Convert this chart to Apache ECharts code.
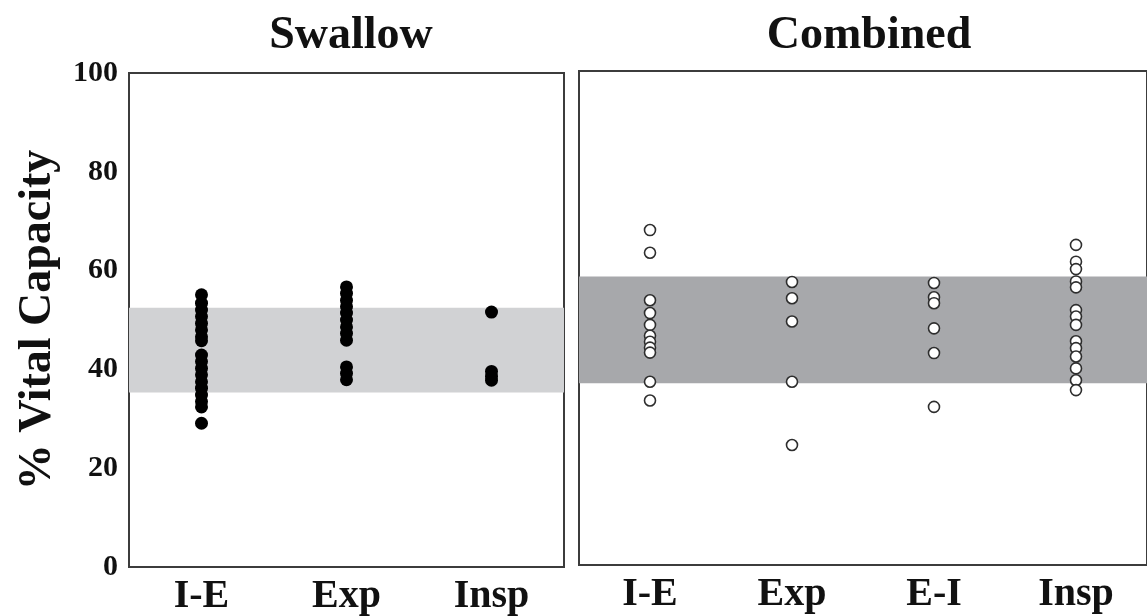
<!DOCTYPE html>
<html>
<head>
<meta charset="utf-8">
<script src="https://cdn.jsdelivr.net/npm/echarts@6/dist/echarts.min.js"></script>
<style>
  html, body { margin: 0; padding: 0; background: #fff; }
  #chart { width: 1147px; height: 616px; }
</style>
</head>
<body>
<div id="chart"></div>
<script>
// Panel titles and categories
const panelTitles = ['Swallow', 'Combined'];
const swallowCats = ['I-E', 'Exp', 'Insp'];
const combinedCats = ['I-E', 'Exp', 'E-I', 'Insp'];

// % vital capacity per trial, swallow alone
const swallowIE = [55.1, 53.4, 52.0, 50.7, 49.3, 48.0, 46.6, 45.8, 42.9, 41.6, 40.2, 38.9, 37.5, 36.2, 34.8, 33.5, 32.4, 29.1];
const swallowExp = [56.7, 55.4, 54.0, 52.7, 51.4, 50.0, 48.6, 47.3, 45.9, 40.5, 39.2, 37.9];
const swallowInsp = [51.6, 39.6, 38.6, 37.8];

// % vital capacity per trial, combined task
const combinedIE = [67.8, 63.2, 53.6, 51.0, 48.6, 46.4, 45.2, 44.0, 43.0, 37.1, 33.3];
const combinedExp = [57.3, 54.0, 49.3, 37.1, 24.3];
const combinedEI = [57.1, 54.2, 53.0, 47.9, 42.9, 32.0];
const combinedInsp = [64.8, 61.4, 59.9, 57.4, 56.2, 51.6, 50.3, 48.6, 45.3, 43.9, 42.2, 39.8, 37.4, 35.4];

// Shaded normal ranges [low, high]
const swallowBand = [35.3, 52.5];
const combinedBand = [36.8, 58.4];

// Y tick values
const yTicks = [0, 20, 40, 60, 80, 100];

const serif = '"Liberation Serif", "DejaVu Serif", serif';

function pairs(cat, vals) { return vals.map(v => [cat, v]); }

const swallowPoints = [].concat(
  pairs('I-E', swallowIE), pairs('Exp', swallowExp), pairs('Insp', swallowInsp));
const combinedPoints = [].concat(
  pairs('I-E', combinedIE), pairs('Exp', combinedExp),
  pairs('E-I', combinedEI), pairs('Insp', combinedInsp));

const chart = echarts.init(document.getElementById('chart'), null, { renderer: 'canvas' });

const gridCommon = { show: true, borderColor: '#3c3c3c', borderWidth: 2, backgroundColor: 'transparent', outerBoundsMode: 'none' };

function xAxisFor(idx, cats) {
  return {
    type: 'category', gridIndex: idx, data: cats, boundaryGap: true,
    axisLine: { show: false }, axisTick: { show: false }, splitLine: { show: false },
    axisLabel: { margin: 10, color: '#111', fontFamily: serif, fontWeight: 'bold', fontSize: 40 }
  };
}

chart.setOption({
  animation: false,
  backgroundColor: '#fff',
  title: [
    { text: panelTitles[0], left: 346, top: 8, textAlign: 'center',
      textStyle: { fontFamily: serif, fontWeight: 'bold', fontSize: 46, color: '#111' } },
    { text: panelTitles[1], left: 864, top: 8, textAlign: 'center',
      textStyle: { fontFamily: serif, fontWeight: 'bold', fontSize: 46, color: '#111' } }
  ],
  grid: [
    Object.assign({ left: 129, right: 583, top: 73, bottom: 49 }, gridCommon),
    Object.assign({ left: 579, right: 0, top: 71, bottom: 51 }, gridCommon)
  ],
  xAxis: [xAxisFor(0, swallowCats), xAxisFor(1, combinedCats)],
  yAxis: [
    {
      type: 'value', gridIndex: 0, min: 0, max: 100, interval: 20,
      name: '% Vital Capacity', nameLocation: 'middle', nameGap: 68, nameRotate: 90,
      nameTextStyle: { fontFamily: serif, fontWeight: 'bold', fontSize: 46, color: '#111' },
      axisLine: { show: false }, axisTick: { show: false }, splitLine: { show: false },
      axisLabel: {
        margin: 11, color: '#111', fontFamily: serif, fontWeight: 'bold', fontSize: 30,
        formatter: v => (yTicks.indexOf(v) >= 0 ? String(v) : '')
      }
    },
    {
      type: 'value', gridIndex: 1, min: 0, max: 100, interval: 20,
      axisLine: { show: false }, axisTick: { show: false }, splitLine: { show: false },
      axisLabel: { show: false }
    }
  ],
  series: [
    {
      type: 'scatter', xAxisIndex: 0, yAxisIndex: 0,
      data: swallowPoints, symbol: 'circle', symbolSize: 13,
      itemStyle: { color: '#000', opacity: 1 },
      markArea: {
        silent: true, z: 0,
        itemStyle: { color: '#d1d2d4', opacity: 1 },
        data: [[{ yAxis: swallowBand[0] }, { yAxis: swallowBand[1] }]]
      }
    },
    {
      type: 'scatter', xAxisIndex: 1, yAxisIndex: 1,
      data: combinedPoints, symbol: 'circle', symbolSize: 11,
      itemStyle: { color: '#fff', borderColor: '#2e2e2e', borderWidth: 1.6, opacity: 1 },
      markArea: {
        silent: true, z: 0,
        itemStyle: { color: '#a7a8ab', opacity: 1 },
        data: [[{ yAxis: combinedBand[0] }, { yAxis: combinedBand[1] }]]
      }
    }
  ]
});
</script>
</body>
</html>
